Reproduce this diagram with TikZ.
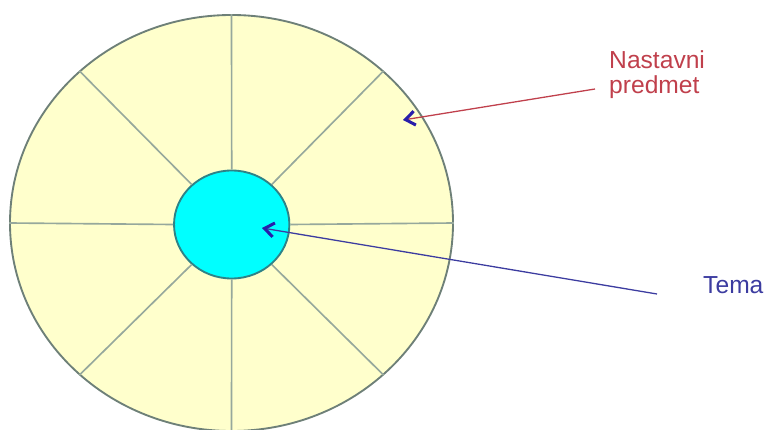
\documentclass[tikz,border=0pt]{standalone}
\usepackage{fontspec}
\setmainfont{Liberation Sans}
\usetikzlibrary{arrows.meta,shapes.geometric}
\definecolor{predfill}{RGB}{255,255,204}
\definecolor{rimgray}{RGB}{110,128,120}
\definecolor{spokegray}{RGB}{150,168,156}
\definecolor{temateal}{RGB}{46,130,135}
\definecolor{temafill}{RGB}{0,255,255}
\definecolor{predred}{RGB}{192,64,76}
\definecolor{temablue}{RGB}{60,60,160}
\definecolor{tipblue}{RGB}{40,30,170}

\begin{document}
\begin{tikzpicture}[x=0.03cm,y=-0.03cm,
  lbl/.style={font=\fontsize{21pt}{21.5pt}\selectfont,inner sep=0pt,align=left},
  spoke/.style={draw=spokegray,line width=1.4pt},
  pointer/.style={line width=1.1pt,-{Straight Barb[color=tipblue,length=8pt,width=12pt,line width=2.6pt]}}]
  \useasboundingbox (0,0) rectangle (769,430);

  \node[ellipse,draw=rimgray,line width=1.6pt,fill=predfill,inner sep=0pt,
        minimum width=13.29cm,minimum height=12.48cm] (predmet) at (231.5,223) {};
  \node[ellipse,draw=temateal,line width=1.6pt,fill=temafill,inner sep=0pt,
        minimum width=3.46cm,minimum height=3.24cm] (tema) at (231.7,224.5) {};
  \foreach \a in {0,45,...,315}
    \draw[spoke] (tema.\a) -- (predmet.\a);

  \node[lbl,text=predred,anchor=north west] (lblpredmet) at (609,50) {Nastavni\\predmet};
  \node[lbl,text=temablue,anchor=base west] (lbltema) at (703,293) {Tema};

  \coordinate (srcP) at (595,89);
  \coordinate (dstP) at (403,120);
  \coordinate (srcT) at (657,294);
  \coordinate (dstT) at (262,228);

  \draw[pointer,draw=predred] (srcP) -- (dstP);
  \draw[pointer,draw=temablue] (srcT) -- (dstT);
\end{tikzpicture}
\end{document}
